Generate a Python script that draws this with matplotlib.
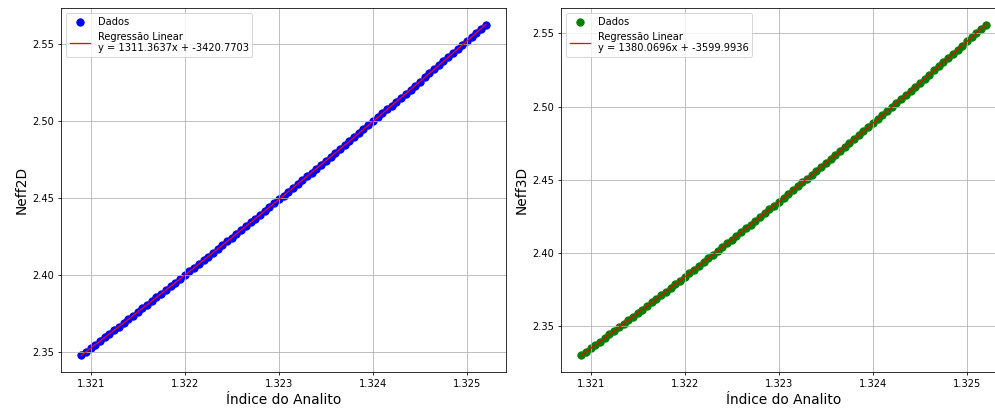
import numpy as np
import matplotlib
matplotlib.use("Agg")
import matplotlib.pyplot as plt

# indice do analito (eixo x)
indice = [
    1.32090, 1.32095, 1.32100, 1.32105, 1.32110, 1.32115, 1.32120, 1.32125, 1.32130, 1.32135,
    1.32140, 1.32145, 1.32150, 1.32155, 1.32160, 1.32165, 1.32170, 1.32175, 1.32180, 1.32185,
    1.32190, 1.32195, 1.32200, 1.32205, 1.32210, 1.32215, 1.32220, 1.32225, 1.32230, 1.32235,
    1.32240, 1.32245, 1.32250, 1.32255, 1.32260, 1.32265, 1.32270, 1.32275, 1.32280, 1.32285,
    1.32290, 1.32295, 1.32300, 1.32305, 1.32310, 1.32315, 1.32320, 1.32325, 1.32330, 1.32335,
    1.32340, 1.32345, 1.32350, 1.32355, 1.32360, 1.32365, 1.32370, 1.32375, 1.32380, 1.32385,
    1.32390, 1.32395, 1.32400, 1.32405, 1.32410, 1.32415, 1.32420, 1.32425, 1.32430, 1.32435,
    1.32440, 1.32445, 1.32450, 1.32455, 1.32460, 1.32465, 1.32470, 1.32475, 1.32480, 1.32485,
    1.32490, 1.32495, 1.32500, 1.32505, 1.32510, 1.32515, 1.32520,
]

neff2d = [
    2.3476, 2.3499, 2.3523, 2.3546, 2.3569, 2.3593, 2.3616, 2.3640, 2.3663, 2.3687,
    2.3710, 2.3734, 2.3758, 2.3782, 2.3805, 2.3829, 2.3853, 2.3877, 2.3901, 2.3925,
    2.3949, 2.3973, 2.3997, 2.4021, 2.4045, 2.4070, 2.4094, 2.4118, 2.4143, 2.4167,
    2.4191, 2.4216, 2.4240, 2.4265, 2.4290, 2.4314, 2.4339, 2.4364, 2.4388, 2.4413,
    2.4438, 2.4463, 2.4488, 2.4513, 2.4538, 2.4563, 2.4588, 2.4613, 2.4638, 2.4663,
    2.4688, 2.4714, 2.4739, 2.4764, 2.4790, 2.4815, 2.4841, 2.4866, 2.4892, 2.4917,
    2.4943, 2.4968, 2.4994, 2.5020, 2.5046, 2.5072, 2.5097, 2.5123, 2.5149, 2.5175,
    2.5201, 2.5227, 2.5253, 2.5280, 2.5306, 2.5332, 2.5358, 2.5385, 2.5411, 2.5437,
    2.5464, 2.5490, 2.5517, 2.5543, 2.5570, 2.5596, 2.5623,
]

neff3d = [
    2.3302, 2.3326, 2.3350, 2.3373, 2.3397, 2.3421, 2.3445, 2.3469, 2.3494, 2.3518,
    2.3542, 2.3566, 2.3591, 2.3615, 2.3640, 2.3664, 2.3689, 2.3714, 2.3738, 2.3763,
    2.3788, 2.3813, 2.3838, 2.3863, 2.3888, 2.3913, 2.3939, 2.3964, 2.3989, 2.4015,
    2.4040, 2.4066, 2.4091, 2.4117, 2.4142, 2.4168, 2.4194, 2.4220, 2.4246, 2.4272,
    2.4298, 2.4324, 2.4350, 2.4376, 2.4403, 2.4429, 2.4455, 2.4482, 2.4508, 2.4535,
    2.4561, 2.4588, 2.4615, 2.4642, 2.4668, 2.4695, 2.4722, 2.4749, 2.4776, 2.4804,
    2.4831, 2.4858, 2.4885, 2.4913, 2.4940, 2.4968, 2.4995, 2.5023, 2.5051, 2.5078,
    2.5106, 2.5134, 2.5162, 2.5190, 2.5218, 2.5246, 2.5274, 2.5302, 2.5331, 2.5359,
    2.5387, 2.5416, 2.5444, 2.5473, 2.5502, 2.5530, 2.5559,
]

# texto das equacoes como aparece na legenda original
eq2d = "y = 1311.3637x + -3420.7703"
eq3d = "y = 1380.0696x + -3599.9936"

dpi = 995 / 14
fig = plt.figure(figsize=(14, 410 / dpi), dpi=dpi)

x = np.array(indice)
paineis = [
    (neff2d, "blue", "Neff2D", eq2d, 61 / 995),
    (neff3d, "green", "Neff3D", eq3d, 561 / 995),
]

for y_vals, cor, nome, eq, left in paineis:
    ax = fig.add_axes([left, 38 / 410, 445 / 995, 364 / 410])
    y = np.array(y_vals)
    ax.scatter(x, y, color=cor, s=55, label="Dados")
    # a linha vermelha no original acompanha os pontos
    ax.plot(x, y, color="red", lw=1.3, label="Regressão Linear\n" + eq)
    ax.set_xlabel("Índice do Analito", fontsize=14)
    ax.set_ylabel(nome, fontsize=14)
    ax.legend(loc="upper left")
    ax.grid(True)

fig.savefig("out.png", dpi=dpi)
